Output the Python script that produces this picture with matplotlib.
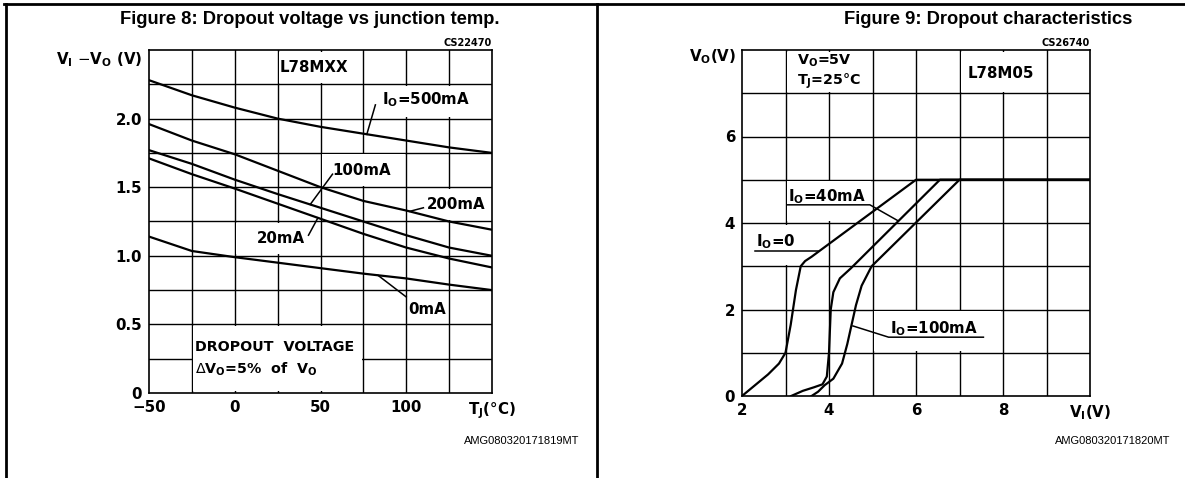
import matplotlib
matplotlib.use('Agg')
import matplotlib.pyplot as plt
from matplotlib.patches import Rectangle
from matplotlib.lines import Line2D

# ---------------- data ----------------
# Figure 8: dropout voltage vs junction temperature
temps = [-50, -25, 0, 25, 50, 75, 100, 125, 150]
drop_500mA = [2.28, 2.17, 2.08, 2.00, 1.94, 1.89, 1.84, 1.79, 1.75]
drop_200mA = [1.96, 1.84, 1.74, 1.62, 1.50, 1.40, 1.33, 1.25, 1.19]
drop_100mA = [1.77, 1.67, 1.555, 1.45, 1.35, 1.25, 1.15, 1.06, 1.00]
drop_20mA = [1.71, 1.595, 1.49, 1.38, 1.27, 1.16, 1.06, 0.98, 0.915]
drop_0mA = [1.14, 1.035, 0.99, 0.95, 0.91, 0.87, 0.835, 0.79, 0.75]
xticks8 = [-50, 0, 50, 100, 150]
xticklabels8 = ['\u221250', '0', '50', '100', r'T$_\mathregular{J}$(°C)']
yticks8 = [0, 0.5, 1.0, 1.5, 2.0]
yticklabels8 = ['0', '0.5', '1.0', '1.5', '2.0']

# Figure 9: dropout characteristics
vin_0 = [2.0, 2.3, 2.6, 2.85, 3.0, 3.12, 3.24, 3.35, 3.45, 3.6, 6.0, 10.0]
vo_0 = [0.0, 0.25, 0.5, 0.75, 1.0, 1.65, 2.45, 3.0, 3.12, 3.22, 5.0, 5.0]
vin_40 = [3.13, 3.4, 3.65, 3.85, 3.95, 4.0, 4.04, 4.1, 4.25, 4.5, 6.55, 10.0]
vo_40 = [0.0, 0.12, 0.2, 0.27, 0.45, 1.0, 2.0, 2.4, 2.72, 2.95, 5.0, 5.0]
vin_100 = [3.6, 3.75, 3.9, 4.1, 4.3, 4.42, 4.52, 4.62, 4.75, 4.98, 7.0, 10.0]
vo_100 = [0.0, 0.1, 0.25, 0.4, 0.75, 1.2, 1.65, 2.1, 2.55, 3.0, 5.0, 5.0]
xticks9 = [2, 4, 6, 8, 10]
xticklabels9 = ['2', '4', '6', '8', r'V$_\mathregular{I}$(V)']
yticks9 = [0, 2, 4, 6]
yticklabels9 = ['0', '2', '4', '6']

# ---------------- figure ----------------
W, H = 1185, 478
fig = plt.figure(figsize=(W / 100, H / 100), dpi=100)
CF = 'DejaVu Sans'
AF = 'Liberation Sans'


def ax_at(x0, y0, x1, y1):
    return fig.add_axes([x0 / W, 1 - y1 / H, (x1 - x0) / W, (y1 - y0) / H])


def fig_line(x0, y0, x1, y1, lw=1.8):
    fig.add_artist(Line2D([x0 / W, x1 / W], [1 - y0 / H, 1 - y1 / H],
                          transform=fig.transFigure, color='black', lw=lw))


def setup(ax, xlim, ylim, xg, yg, masks, dx, dy):
    ax.set_xlim(*xlim)
    ax.set_ylim(*ylim)
    for x in xg:
        ax.axvline(x, color='black', lw=1.0, zorder=1)
    for y in yg:
        ax.axhline(y, color='black', lw=1.0, zorder=1)
    for (a, b, c, d) in masks:
        ax.add_patch(Rectangle((a + dx, c + dy), (b - a) - 2 * dx, (d - c) - 2 * dy,
                               facecolor='white', edgecolor='none', zorder=1.5))
    for s in ax.spines.values():
        s.set_linewidth(1.2)
        s.set_zorder(5)
    ax.tick_params(length=0, pad=5)


TF = dict(fontfamily=CF, fontweight='bold', fontsize=10.8)

# ---- left panel ----
ax1 = ax_at(149, 50, 492, 393)
setup(ax1, (-50, 150), (0, 2.5),
      [-25, 0, 25, 50, 75, 100, 125], [0.25 * i for i in range(1, 10)],
      [(25, 75, 2.25, 2.5), (75, 150, 2.0, 2.25), (50, 100, 1.5, 1.75),
       (100, 150, 1.25, 1.5), (0, 50, 1.0, 1.25), (-25, 75, 0, 0.5)],
      0.9, 0.011)
for ys in (drop_500mA, drop_200mA, drop_100mA, drop_20mA, drop_0mA):
    ax1.plot(temps, ys, color='black', lw=1.6, zorder=3)
ax1.set_xticks(xticks8)
ax1.set_xticklabels(xticklabels8, **TF)
ax1.set_yticks(yticks8)
ax1.set_yticklabels(yticklabels8, **TF)

tk = dict(fontfamily=CF, fontweight='bold', fontsize=10.8, zorder=4, va='center')
ax1.text(46, 2.37, 'L78MXX', ha='center', **tk)
ax1.text(86, 2.14, r'I$_\mathregular{O}$=500mA', ha='left', **tk)
ax1.text(57, 1.62, '100mA', ha='left', **tk)
ax1.text(112, 1.375, '200mA', ha='left', **tk)
ax1.text(13, 1.125, '20mA', ha='left', **tk)
ax1.text(101, 0.605, '0mA', ha='left', **tk)
tk_small = dict(tk, fontsize=10.3)
ax1.text(-23, 0.337, 'DROPOUT  VOLTAGE', ha='left', **tk_small)
ax1.text(-23, 0.17, r'$\Delta$V$_\mathregular{O}$=5%  of  V$_\mathregular{O}$', ha='left', **tk_small)
for (x0, y0, x1, y1) in [(77, 1.885, 82, 2.1), (57, 1.595, 44, 1.374),
                         (110, 1.35, 102, 1.324), (43, 1.15, 48.5, 1.277),
                         (100, 0.70, 83.5, 0.858)]:
    ax1.plot([x0, x1], [y0, y1], color='black', lw=1.1, zorder=3)

# ---- right panel ----
ax2 = ax_at(742, 50, 1090, 396)
setup(ax2, (2, 10), (0, 8),
      [3, 4, 5, 6, 7, 8, 9], [1, 2, 3, 4, 5, 6, 7],
      [(3, 5, 7, 8), (7, 9, 7, 8), (3, 5, 4, 5), (2, 4, 3, 4), (5, 8, 1, 2)],
      0.035, 0.035)
for xs, ys in ((vin_0, vo_0), (vin_40, vo_40), (vin_100, vo_100)):
    ax2.plot(xs, ys, color='black', lw=1.6, zorder=3)
ax2.set_xticks(xticks9)
ax2.set_xticklabels(xticklabels9, **TF)
ax2.set_yticks(yticks9)
ax2.set_yticklabels(yticklabels9, **TF)

ax2.text(3.26, 7.74, r'V$_\mathregular{O}$=5V', ha='left', **tk_small)
ax2.text(3.26, 7.27, r'T$_\mathregular{J}$=25°C', ha='left', **tk_small)
ax2.text(7.95, 7.45, 'L78M05', ha='center', **tk)
ax2.text(3.05, 4.62, r'I$_\mathregular{O}$=40mA', ha='left', **tk)
ax2.text(2.32, 3.56, r'I$_\mathregular{O}$=0', ha='left', **tk)
ax2.text(5.4, 1.56, r'I$_\mathregular{O}$=100mA', ha='left', **tk)
for (xs, ys) in [([3.03, 4.94, 5.59], [4.42, 4.42, 4.05]),
                 ([2.3, 3.75], [3.35, 3.35]),
                 ([7.55, 5.37, 4.55], [1.36, 1.36, 1.62])]:
    ax2.plot(xs, ys, color='black', lw=1.1, zorder=3)

# ---- figure-level text ----
fig.text(142 / W, 1 - 60 / H, r'V$_\mathregular{I}$ $-$V$_\mathregular{O}$ (V)',
         ha='right', va='center', **TF)
fig.text(736 / W, 1 - 57 / H, r'V$_\mathregular{O}$(V)',
         ha='right', va='center', **TF)
fig.text(492 / W, 1 - 43 / H, 'CS22470', ha='right', va='center',
         fontfamily=CF, fontweight='bold', fontsize=7)
fig.text(1090 / W, 1 - 43 / H, 'CS26740', ha='right', va='center',
         fontfamily=CF, fontweight='bold', fontsize=7)
fig.text(310 / W, 1 - 20 / H, 'Figure 8: Dropout voltage vs junction temp.',
         ha='center', va='center', fontfamily=AF, fontweight='bold', fontsize=13.2)
fig.text(988 / W, 1 - 20 / H, 'Figure 9: Dropout characteristics',
         ha='center', va='center', fontfamily=AF, fontweight='bold', fontsize=13.2)
fig.text(579 / W, 1 - 441 / H, 'AMG080320171819MT', ha='right', va='center',
         fontfamily=AF, fontsize=8)
fig.text(1170 / W, 1 - 441 / H, 'AMG080320171820MT', ha='right', va='center',
         fontfamily=AF, fontsize=8)

# panel frame
fig_line(4, 4, 1185, 4, lw=2.0)
fig_line(5.5, 4, 5.5, 478, lw=2.0)
fig_line(597, 4, 597, 478, lw=2.0)

fig.savefig('out.png', dpi=100)
